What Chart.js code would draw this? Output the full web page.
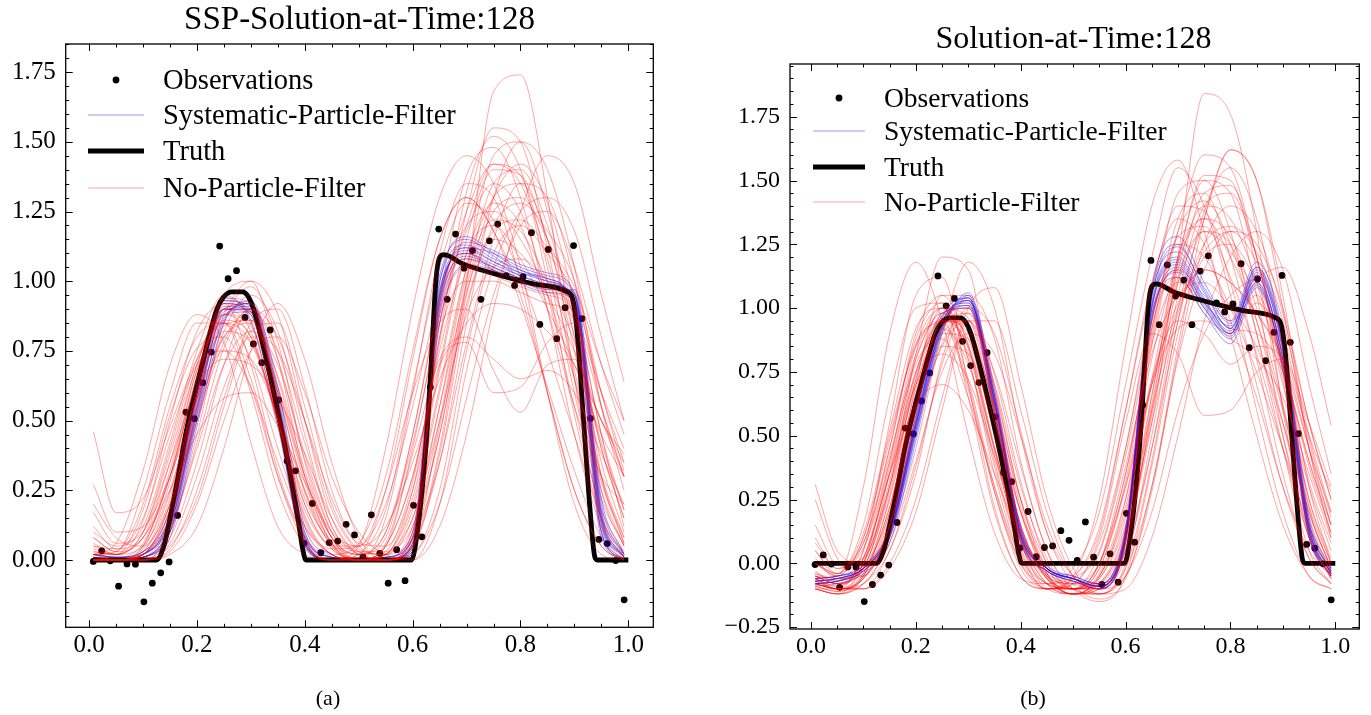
<!DOCTYPE html>
<html>
<head>
<meta charset="utf-8">
<script src="https://cdn.jsdelivr.net/npm/chart.js@4.4.1/dist/chart.umd.min.js"></script>
<style>
  body { margin: 0; background: #fff; }
  #contenedor { position: relative; width: 1371px; height: 715px; }
  canvas { position: absolute; top: 0; }
  #graficaA { left: 0; }
  #graficaB { left: 685px; }
</style>
</head>
<body>
<div id="contenedor">
  <canvas id="graficaA" width="685" height="715"></canvas>
  <canvas id="graficaB" width="686" height="715"></canvas>
</div>
<script>
// ===============================
// DATOS
// ===============================
const obsX = [0.0078,0.0234,0.0391,0.0547,0.0703,0.0859,0.1016,0.1172,0.1328,0.1484,0.1641,0.1797,0.1953,0.2109,0.2266,0.2422,
  0.2578,0.2734,0.2891,0.3047,0.3203,0.3359,0.3516,0.3672,0.3828,0.3984,0.4141,0.4297,0.4453,0.4609,0.4766,0.4922,
  0.5078,0.5234,0.5391,0.5547,0.5703,0.5859,0.6016,0.6172,0.6328,0.6484,0.6641,0.6797,0.6953,0.7109,0.7266,0.7422,
  0.7578,0.7734,0.7891,0.8047,0.8203,0.8359,0.8516,0.8672,0.8828,0.8984,0.9141,0.9297,0.9453,0.9609,0.9766,0.9922];
const obsY = [-0.005,0.033,-0.003,-0.094,-0.014,-0.015,-0.150,-0.083,-0.046,-0.007,0.160,0.530,0.507,0.636,0.746,1.126,
  1.009,1.038,0.870,0.775,0.708,0.825,0.574,0.355,0.320,0.060,0.203,0.026,0.062,0.068,0.128,0.090,
  0.011,0.162,0.024,-0.083,0.037,-0.074,0.196,0.083,0.620,1.187,0.935,1.169,1.047,1.110,0.935,1.145,
  1.205,1.020,0.985,1.016,1.174,0.845,1.114,0.794,0.905,1.128,0.866,0.508,0.074,0.059,-0.002,-0.143];

const verdadX = [0.007,0.125,0.14,0.15,0.165,0.18,0.2,0.212,0.225,0.237,0.25,0.265,0.285,0.295,0.305,0.323,0.348,0.373,0.388,0.396,0.402,
  0.598,0.61,0.62,0.63,0.637,0.643,0.65,0.658,0.668,0.69,0.75,0.795,0.825,0.886,0.896,0.904,0.917,0.929,0.938,0.943,1.0];
const verdadY = [0,0,0.06,0.15,0.3,0.46,0.63,0.72,0.82,0.9,0.945,0.962,0.962,0.945,0.9,0.765,0.55,0.31,0.14,0.04,0,
  0,0.12,0.3,0.55,0.8,1.0,1.085,1.095,1.09,1.065,1.028,1.004,0.99,0.962,0.94,0.84,0.5,0.18,0.01,0,0];

// malla comun de las particulas
const ensX = [0.008,0.05,0.1,0.15,0.2,0.25,0.3,0.35,0.4,0.45,0.5,0.55,0.6,0.65,0.7,0.75,0.8,0.85,0.9,0.95,0.992];

const rojasA = [
  [0.02,0.06,0.32,0.70,0.88,0.78,0.42,0.12,0.02,0.00,0.02,0.25,0.72,1.15,1.30,1.18,0.95,0.60,0.25,0.05,0.00],
  [0.46,0.17,0.22,0.48,0.72,0.85,0.72,0.40,0.12,0.02,0.00,0.05,0.30,0.75,1.10,1.28,1.20,0.90,0.55,0.30,0.20],
  [0.27,0.10,0.12,0.30,0.58,0.80,0.85,0.62,0.30,0.08,0.02,0.10,0.42,0.85,1.20,1.42,1.38,1.05,0.60,0.22,0.05],
  [0.20,0.08,0.05,0.20,0.50,0.78,0.90,0.75,0.42,0.12,0.03,0.02,0.18,0.60,1.05,1.45,1.50,1.25,0.80,0.35,0.10],
  [0.02,0.00,0.02,0.12,0.40,0.70,0.82,0.70,0.38,0.10,0.00,0.02,0.12,0.45,1.00,1.68,1.74,1.30,0.65,0.15,0.00],
  [0.00,0.00,0.00,0.05,0.22,0.55,0.82,0.85,0.55,0.20,0.04,0.02,0.08,0.35,0.78,1.15,1.35,1.30,1.00,0.55,0.30],
  [0.00,0.00,0.00,0.02,0.12,0.40,0.75,0.92,0.72,0.35,0.08,0.00,0.02,0.20,0.58,0.95,1.20,1.25,1.05,0.70,0.45],
  [0.05,0.02,0.08,0.25,0.45,0.58,0.60,0.48,0.28,0.10,0.05,0.12,0.35,0.65,0.85,0.92,0.90,0.82,0.70,0.50,0.30],
  [0.03,0.02,0.10,0.40,0.72,0.88,0.80,0.50,0.20,0.05,0.05,0.25,0.60,0.85,0.90,0.68,0.53,0.70,0.72,0.50,0.35],
  [0.00,0.00,0.05,0.30,0.65,0.90,0.88,0.60,0.25,0.05,0.00,0.05,0.30,0.70,0.78,0.60,0.62,0.78,0.85,0.60,0.40],
  [0.02,0.03,0.20,0.55,0.80,0.85,0.65,0.30,0.06,0.00,0.05,0.40,0.90,1.30,1.45,1.35,1.05,0.60,0.20,0.02,0.00],
  [0.00,0.00,0.02,0.15,0.50,0.82,0.95,0.82,0.45,0.12,0.02,0.00,0.10,0.50,1.00,1.35,1.40,1.20,0.85,0.40,0.15],
  [0.10,0.05,0.12,0.42,0.75,0.95,0.85,0.50,0.15,0.02,0.00,0.00,0.05,0.40,0.95,1.25,1.30,1.15,0.90,0.45,0.12],
  [0.03,0.02,0.05,0.25,0.60,0.88,1.00,0.88,0.50,0.15,0.02,0.00,0.02,0.25,0.75,1.10,1.20,1.10,0.95,0.60,0.35],
  [0.00,0.00,0.00,0.08,0.35,0.70,0.90,0.80,0.50,0.18,0.03,0.00,0.05,0.35,0.85,1.30,1.50,1.40,1.05,0.55,0.25],
  [0.05,0.04,0.15,0.45,0.70,0.75,0.62,0.35,0.12,0.04,0.05,0.20,0.55,0.95,1.20,1.25,1.15,0.95,0.65,0.30,0.08],
  [0.00,0.00,0.02,0.20,0.55,0.75,0.72,0.52,0.25,0.06,0.00,0.00,0.08,0.45,0.92,1.15,1.10,0.95,0.75,0.50,0.38],
  [0.12,0.04,0.08,0.30,0.65,0.90,0.92,0.65,0.30,0.08,0.02,0.08,0.45,0.95,1.38,1.48,1.30,0.90,0.45,0.12,0.02],
  [0.00,0.00,0.00,0.03,0.20,0.50,0.75,0.80,0.60,0.30,0.10,0.02,0.00,0.12,0.45,0.90,1.25,1.45,1.35,0.95,0.64],
  [0.02,0.00,0.00,0.10,0.45,0.85,0.98,0.78,0.35,0.08,0.00,0.00,0.00,0.20,0.68,1.05,1.25,1.30,1.18,0.80,0.50],
  [0.08,0.03,0.25,0.60,0.85,0.85,0.60,0.25,0.05,0.00,0.00,0.15,0.60,1.10,1.35,1.30,1.00,0.60,0.25,0.05,0.00],
  [0.00,0.00,0.05,0.32,0.68,0.85,0.78,0.50,0.18,0.04,0.00,0.02,0.20,0.62,1.05,1.30,1.35,1.15,0.75,0.30,0.06],
  [0.17,0.06,0.10,0.35,0.62,0.72,0.70,0.58,0.38,0.15,0.03,0.03,0.15,0.50,0.88,1.05,1.08,1.00,0.88,0.55,0.30],
  [0.00,0.00,0.00,0.06,0.30,0.62,0.80,0.75,0.50,0.22,0.06,0.05,0.25,0.70,1.15,1.40,1.38,1.15,0.80,0.40,0.15],
  [0.02,0.02,0.10,0.38,0.70,0.92,0.90,0.62,0.28,0.06,0.00,0.05,0.38,0.72,0.80,0.72,0.65,0.68,0.60,0.38,0.20],
  [0.00,0.00,0.03,0.22,0.62,0.95,1.00,0.72,0.30,0.06,0.00,0.02,0.25,0.78,1.25,1.55,1.50,1.12,0.65,0.25,0.05],
  [0.00,0.00,0.01,0.12,0.55,0.90,0.92,0.55,0.06,0.00,0.00,0.00,0.06,0.92,1.08,1.04,1.00,0.97,0.92,0.10,0.00],
  [0.00,0.00,0.02,0.16,0.60,0.92,0.88,0.50,0.05,0.00,0.00,0.00,0.04,0.85,1.05,1.02,0.98,0.95,0.88,0.15,0.01],
  [0.00,0.00,0.04,0.28,0.66,0.88,0.84,0.55,0.20,0.04,0.00,0.00,0.12,0.55,1.02,1.22,1.18,1.00,0.78,0.42,0.18],
  [0.06,0.02,0.14,0.50,0.82,0.92,0.70,0.32,0.08,0.00,0.02,0.18,0.62,1.05,1.28,1.22,1.02,0.75,0.45,0.15,0.02],
  [0.00,0.00,0.00,0.04,0.25,0.58,0.85,0.90,0.62,0.25,0.05,0.02,0.15,0.55,0.98,1.30,1.42,1.28,0.92,0.45,0.18],
  [0.02,0.01,0.06,0.30,0.68,0.86,0.80,0.50,0.16,0.02,0.00,0.03,0.28,0.80,1.32,1.52,1.40,1.00,0.52,0.15,0.02],
  [0.00,0.00,0.02,0.18,0.52,0.80,0.86,0.66,0.32,0.08,0.00,0.00,0.05,0.48,0.96,1.18,1.22,1.12,0.98,0.70,0.50],
  [0.04,0.02,0.18,0.52,0.76,0.80,0.62,0.30,0.08,0.02,0.06,0.30,0.75,1.15,1.30,1.18,0.92,0.62,0.32,0.08,0.00],
  [0.00,0.00,0.01,0.14,0.56,0.88,0.90,0.58,0.10,0.00,0.00,0.00,0.10,0.80,1.00,1.00,0.96,0.92,0.86,0.25,0.05],
  [0.00,0.00,0.00,0.10,0.42,0.76,0.90,0.72,0.36,0.10,0.02,0.00,0.04,0.38,0.90,1.20,1.28,1.18,1.00,0.60,0.32],
  [0.08,0.03,0.08,0.35,0.70,0.90,0.82,0.48,0.14,0.02,0.00,0.06,0.40,0.88,1.18,1.35,1.25,0.95,0.55,0.18,0.03],
  [0.00,0.00,0.02,0.20,0.58,0.84,0.86,0.60,0.24,0.05,0.00,0.02,0.22,0.68,1.10,1.20,1.08,0.90,0.70,0.45,0.30],
  [0.01,0.00,0.02,0.18,0.62,0.94,0.92,0.52,0.08,0.00,0.00,0.00,0.08,0.90,1.10,1.05,1.00,0.96,0.90,0.30,0.06],
  [0.00,0.00,0.03,0.24,0.60,0.82,0.78,0.52,0.22,0.06,0.02,0.10,0.45,0.92,1.25,1.42,1.35,1.08,0.68,0.28,0.08]
];

const azulesA = [
  [0.00,0.00,0.01,0.12,0.55,0.90,0.90,0.55,0.06,0.00,0.00,0.00,0.05,0.95,1.10,1.06,1.02,0.99,0.94,0.10,0.00],
  [0.01,0.00,0.02,0.15,0.60,0.92,0.88,0.50,0.04,0.00,0.00,0.00,0.08,1.00,1.13,1.08,1.04,1.00,0.92,0.14,0.01],
  [0.00,0.00,0.01,0.10,0.52,0.86,0.92,0.60,0.10,0.01,0.00,0.00,0.03,0.88,1.08,1.05,1.01,0.98,0.96,0.18,0.02],
  [0.02,0.01,0.03,0.18,0.62,0.94,0.86,0.48,0.05,0.00,0.00,0.01,0.10,1.02,1.15,1.09,1.03,1.01,0.90,0.08,0.00],
  [0.00,0.00,0.00,0.08,0.48,0.85,0.93,0.62,0.12,0.02,0.00,0.00,0.02,0.85,1.06,1.04,1.00,0.97,0.97,0.22,0.02],
  [0.01,0.00,0.02,0.14,0.58,0.90,0.90,0.56,0.08,0.01,0.00,0.00,0.06,0.93,1.12,1.10,1.05,1.02,0.95,0.16,0.01],
  [0.00,0.00,0.01,0.11,0.54,0.88,0.89,0.53,0.07,0.00,0.00,0.00,0.04,0.97,1.10,1.04,0.99,0.96,0.93,0.12,0.00],
  [0.02,0.01,0.03,0.16,0.60,0.93,0.91,0.54,0.06,0.00,0.00,0.01,0.07,0.92,1.14,1.11,1.06,1.03,0.96,0.20,0.02],
  [0.00,0.00,0.02,0.13,0.57,0.91,0.89,0.52,0.07,0.00,0.00,0.00,0.06,0.96,1.12,1.07,1.03,1.00,0.93,0.13,0.01],
  [0.01,0.00,0.01,0.10,0.50,0.87,0.92,0.58,0.09,0.01,0.00,0.00,0.03,0.90,1.09,1.05,1.01,0.98,0.95,0.17,0.01],
  [0.02,0.01,0.02,0.15,0.59,0.93,0.89,0.51,0.05,0.00,0.00,0.01,0.08,0.99,1.16,1.10,1.04,1.01,0.91,0.10,0.00],
  [0.00,0.00,0.01,0.12,0.53,0.89,0.91,0.57,0.08,0.00,0.00,0.00,0.05,0.94,1.11,1.07,1.02,0.99,0.95,0.15,0.01]
];

const rojasB = [
  [-0.08,-0.10,0.05,0.55,1.05,1.12,0.70,0.22,-0.05,-0.10,-0.06,0.05,0.45,1.00,1.45,1.50,1.30,0.90,0.45,0.05,-0.08],
  [0.00,-0.05,0.30,0.90,1.18,0.95,0.50,0.12,-0.06,-0.08,-0.02,0.20,0.70,1.20,1.55,1.40,1.05,0.60,0.20,-0.05,-0.10],
  [-0.05,-0.08,-0.02,0.30,0.82,1.20,1.15,0.60,0.15,-0.05,-0.10,-0.05,0.25,0.85,1.30,1.60,1.55,1.20,0.75,0.25,0.00],
  [-0.06,-0.10,-0.08,0.10,0.45,0.90,1.18,1.00,0.50,0.12,-0.05,-0.10,0.02,0.45,1.00,1.35,1.62,1.50,1.00,0.45,0.15],
  [0.02,-0.06,-0.05,0.15,0.60,0.95,0.92,0.60,0.20,-0.04,-0.12,-0.08,0.10,0.55,1.20,1.84,1.76,1.30,0.60,0.10,-0.05],
  [0.31,0.05,0.00,0.35,0.75,0.95,0.85,0.45,0.10,-0.08,-0.12,-0.05,0.20,0.70,1.10,1.30,1.25,0.95,0.55,0.15,-0.05],
  [0.25,0.02,-0.05,0.15,0.60,0.90,0.95,0.70,0.30,0.02,-0.10,-0.10,0.05,0.60,1.15,1.40,1.35,1.10,0.70,0.30,0.05],
  [-0.10,-0.12,0.00,0.35,0.62,0.70,0.60,0.35,0.10,-0.05,-0.08,0.00,0.30,0.70,0.92,0.95,0.88,0.80,0.65,0.35,0.10],
  [-0.05,-0.08,0.02,0.40,0.85,1.00,0.80,0.35,0.02,-0.10,-0.08,0.10,0.55,0.90,0.82,0.58,0.60,0.75,0.80,0.55,0.30],
  [-0.08,-0.10,-0.10,0.05,0.35,0.80,1.05,0.88,0.40,0.05,-0.10,-0.12,-0.02,0.30,0.85,1.35,1.62,1.50,1.05,0.45,0.10],
  [0.00,-0.04,0.15,0.65,1.00,1.02,0.65,0.20,-0.05,-0.10,-0.05,0.25,0.85,1.40,1.58,1.30,0.90,0.50,0.15,-0.05,-0.10],
  [-0.08,-0.10,-0.10,-0.02,0.20,0.60,0.95,0.95,0.60,0.20,-0.05,-0.12,-0.05,0.20,0.60,0.90,1.05,1.12,1.16,0.90,0.54],
  [-0.04,-0.06,0.05,0.45,0.90,1.05,0.85,0.40,0.05,-0.10,-0.10,0.00,0.35,0.90,1.35,1.45,1.20,0.80,0.35,0.02,-0.08],
  [-0.10,-0.10,-0.05,0.20,0.70,1.05,1.05,0.70,0.25,-0.02,-0.10,-0.08,0.10,0.65,1.20,1.35,1.20,0.95,0.60,0.20,-0.02],
  [-0.06,-0.10,-0.02,0.28,0.72,0.95,0.90,0.55,0.15,-0.06,-0.12,-0.06,0.15,0.60,1.00,1.15,1.10,0.98,0.80,0.45,0.20],
  [0.05,-0.05,0.10,0.50,0.85,0.95,0.70,0.28,0.00,-0.08,-0.05,0.12,0.60,1.10,1.35,1.25,0.95,0.65,0.30,0.05,-0.05],
  [-0.10,-0.12,-0.08,0.08,0.40,0.75,0.90,0.82,0.50,0.15,-0.05,-0.10,-0.05,0.30,0.80,1.15,1.30,1.25,1.00,0.55,0.25],
  [-0.08,-0.10,-0.10,0.00,0.25,0.65,1.00,1.08,0.70,0.25,-0.02,-0.12,-0.10,0.10,0.50,0.95,1.20,1.30,1.15,0.70,0.35],
  [0.10,-0.02,0.08,0.42,0.80,0.98,0.82,0.45,0.10,-0.06,-0.10,-0.02,0.30,0.80,1.20,1.50,1.45,1.05,0.50,0.10,-0.06],
  [-0.05,-0.08,0.00,0.32,0.75,0.92,0.78,0.42,0.08,-0.10,-0.12,-0.05,0.22,0.72,0.95,0.90,0.78,0.85,0.80,0.45,0.15],
  [-0.10,-0.12,-0.05,0.22,0.62,0.85,0.82,0.55,0.20,-0.02,-0.10,-0.10,0.05,0.45,0.95,1.38,1.55,1.35,0.85,0.30,0.00],
  [0.00,-0.04,0.12,0.52,0.92,1.00,0.72,0.30,0.00,-0.10,-0.08,0.08,0.45,0.95,1.25,1.20,1.00,0.75,0.45,0.15,-0.04],
  [-0.07,-0.10,-0.06,0.15,0.55,0.85,0.95,0.75,0.38,0.05,-0.10,-0.15,-0.05,0.38,0.90,1.20,1.25,1.10,0.85,0.50,0.28],
  [-0.03,-0.08,0.00,0.38,0.78,0.88,0.65,0.30,0.02,-0.08,-0.10,0.00,0.38,0.82,1.05,1.10,1.00,0.85,0.55,0.20,-0.02],
  [-0.09,-0.11,-0.04,0.25,0.68,0.98,1.00,0.68,0.25,-0.04,-0.12,-0.10,0.08,0.58,1.10,1.45,1.48,1.20,0.72,0.25,0.02],
  [0.15,0.00,0.02,0.30,0.70,0.90,0.88,0.62,0.25,0.00,-0.10,-0.08,0.12,0.55,0.98,1.22,1.30,1.18,0.90,0.48,0.18],
  [-0.05,-0.06,-0.02,0.14,0.58,0.97,1.02,0.60,0.10,-0.04,-0.08,-0.10,0.08,0.95,1.15,1.05,0.95,1.05,0.75,0.12,-0.05],
  [-0.06,-0.09,0.00,0.30,0.74,0.96,0.88,0.50,0.10,-0.08,-0.12,-0.06,0.18,0.72,1.18,1.35,1.28,1.00,0.62,0.22,0.00],
  [-0.08,-0.10,-0.06,0.18,0.62,0.92,0.98,0.66,0.22,-0.04,-0.12,-0.12,0.00,0.50,1.05,1.40,1.45,1.20,0.78,0.32,0.08],
  [0.05,-0.04,0.08,0.45,0.88,1.02,0.80,0.38,0.04,-0.10,-0.10,0.04,0.42,0.92,1.28,1.32,1.12,0.82,0.45,0.10,-0.06],
  [-0.10,-0.12,-0.08,0.05,0.38,0.78,1.00,0.90,0.52,0.12,-0.08,-0.14,-0.06,0.28,0.82,1.25,1.40,1.30,0.98,0.55,0.25],
  [-0.04,-0.07,0.02,0.36,0.80,0.98,0.84,0.44,0.06,-0.08,-0.10,-0.02,0.32,0.86,1.10,1.02,0.92,0.90,0.75,0.40,0.12],
  [-0.07,-0.10,-0.04,0.22,0.66,0.94,0.95,0.62,0.20,-0.05,-0.12,-0.10,0.06,0.62,1.12,1.30,1.22,1.05,0.78,0.38,0.12],
  [0.00,-0.05,0.10,0.48,0.86,0.94,0.68,0.28,-0.02,-0.10,-0.06,0.14,0.60,1.08,1.40,1.38,1.10,0.70,0.30,0.02,-0.08],
  [-0.09,-0.11,-0.06,0.12,0.52,0.86,0.98,0.74,0.32,0.00,-0.10,-0.12,-0.02,0.40,0.95,1.25,1.32,1.22,0.95,0.50,0.20],
  [-0.05,-0.08,-0.02,0.20,0.64,0.96,1.00,0.62,0.15,-0.05,-0.08,-0.08,0.10,0.92,1.12,0.98,0.90,1.02,0.82,0.22,-0.02],
  [-0.06,-0.09,0.02,0.35,0.70,0.82,0.72,0.42,0.12,-0.06,-0.10,-0.04,0.25,0.70,1.02,1.15,1.10,0.98,0.78,0.40,0.15],
  [-0.08,-0.10,-0.05,0.26,0.72,1.00,0.96,0.58,0.14,-0.06,-0.12,-0.08,0.14,0.66,1.18,1.52,1.50,1.15,0.62,0.18,-0.04],
  [0.08,-0.02,0.06,0.40,0.82,1.00,0.86,0.46,0.08,-0.08,-0.10,0.00,0.35,0.88,1.30,1.42,1.25,0.90,0.50,0.12,-0.06]
];

const azulesB = [
  [-0.07,-0.06,-0.02,0.12,0.55,0.95,1.02,0.62,0.10,-0.03,-0.06,-0.09,0.10,1.00,1.18,1.02,0.90,1.12,0.80,0.12,-0.04],
  [-0.08,-0.07,-0.03,0.10,0.52,0.92,1.05,0.65,0.12,-0.02,-0.06,-0.08,0.12,1.05,1.22,1.06,0.92,1.15,0.85,0.15,-0.03],
  [-0.06,-0.05,-0.01,0.14,0.58,0.98,1.00,0.58,0.08,-0.03,-0.07,-0.10,0.08,0.95,1.15,1.00,0.88,1.10,0.76,0.10,-0.05],
  [-0.09,-0.08,-0.04,0.08,0.48,0.90,1.06,0.68,0.14,-0.01,-0.05,-0.08,0.14,1.08,1.28,1.10,0.95,1.18,0.90,0.18,-0.02],
  [-0.07,-0.06,-0.02,0.11,0.54,0.94,1.03,0.63,0.11,-0.02,-0.06,-0.09,0.10,0.98,1.12,0.98,0.86,1.08,0.78,0.11,-0.05],
  [-0.08,-0.07,-0.02,0.13,0.56,0.96,1.04,0.60,0.09,-0.03,-0.07,-0.09,0.11,1.02,1.20,1.04,0.90,1.14,0.83,0.13,-0.04],
  [-0.06,-0.05,-0.02,0.12,0.53,0.93,1.01,0.64,0.11,-0.02,-0.06,-0.10,0.09,0.97,1.16,1.02,0.93,1.10,0.81,0.14,-0.04],
  [-0.08,-0.07,-0.03,0.10,0.50,0.91,1.03,0.66,0.13,-0.02,-0.05,-0.08,0.13,1.04,1.24,1.08,0.94,1.16,0.88,0.16,-0.03],
  [-0.07,-0.06,-0.02,0.12,0.55,0.94,1.04,0.63,0.11,-0.02,-0.06,-0.09,0.11,1.01,1.19,1.03,0.91,1.13,0.84,0.14,-0.04],
  [-0.08,-0.07,-0.03,0.11,0.51,0.92,1.04,0.66,0.13,-0.02,-0.06,-0.09,0.12,1.06,1.25,1.07,0.92,1.16,0.86,0.16,-0.03],
  [-0.06,-0.05,-0.01,0.13,0.57,0.97,1.01,0.59,0.09,-0.03,-0.07,-0.10,0.09,0.96,1.14,1.00,0.89,1.09,0.77,0.11,-0.05],
  [-0.07,-0.06,-0.02,0.12,0.54,0.93,1.03,0.64,0.12,-0.02,-0.06,-0.09,0.10,1.00,1.17,1.01,0.90,1.12,0.80,0.13,-0.04]
];

// marcas de los ejes
const marcasX = [0.0, 0.2, 0.4, 0.6, 0.8, 1.0];
const marcasYA = [0.00, 0.25, 0.50, 0.75, 1.00, 1.25, 1.50, 1.75];
const marcasYB = [-0.25, 0.00, 0.25, 0.50, 0.75, 1.00, 1.25, 1.50, 1.75];

const etiquetas = ["Observations", "Systematic-Particle-Filter", "Truth", "No-Particle-Filter"];

// ===============================
// ESTILO
// ===============================
const fuente = "'Liberation Serif', 'DejaVu Serif', serif";
const colorRojo = "rgba(255,0,0,0.35)";
const colorAzul = "rgba(0,0,255,0.4)";

Chart.defaults.font.family = fuente;
Chart.defaults.color = "#000";

const puntos = (xs, ys) => xs.map((x, i) => ({ x: x, y: ys[i] }));

function armarDatasets(rojas, azules) {
    const ds = [];
    ds.push({
        label: etiquetas[0], data: puntos(obsX, obsY), showLine: false,
        pointRadius: 3.4, pointBackgroundColor: "#000", pointBorderWidth: 0, order: 4
    });
    azules.forEach(f => ds.push({
        data: puntos(ensX, f), borderColor: colorAzul, borderWidth: 1,
        cubicInterpolationMode: "monotone", order: 3
    }));
    ds.push({
        label: etiquetas[2], data: puntos(verdadX, verdadY), borderColor: "#000",
        borderWidth: 4.8, borderJoinStyle: "round", cubicInterpolationMode: "monotone", order: 2
    });
    rojas.forEach(f => ds.push({
        data: puntos(ensX, f), borderColor: colorRojo, borderWidth: 1,
        cubicInterpolationMode: "monotone", order: 1
    }));
    return ds;
}

// ===============================
// MARCO, TICKS HACIA DENTRO, TITULO Y LEYENDA
// ===============================
function menores(scale, paso) {
    const vals = [];
    for (let k = Math.ceil(scale.min / paso - 1e-9); k * paso <= scale.max + 1e-9; k++) {
        vals.push(k * paso);
    }
    return vals;
}

const marco = {
    id: "marco",
    afterDatasetsDraw(chart) {
        const { ctx, chartArea: a, scales } = chart;
        const sx = scales.x, sy = scales.y;
        ctx.save();
        ctx.strokeStyle = "#000";
        ctx.lineWidth = 1;
        ctx.beginPath();
        const linea = (x1, y1, x2, y2) => { ctx.moveTo(x1, y1); ctx.lineTo(x2, y2); };
        menores(sx, 0.05).forEach(v => {
            const p = Math.round(sx.getPixelForValue(v)) + 0.5;
            const largo = marcasX.some(m => Math.abs(m - v) < 1e-6) ? 7 : 3.5;
            linea(p, a.bottom, p, a.bottom - largo);
            linea(p, a.top, p, a.top + largo);
        });
        menores(sy, 0.05).forEach(v => {
            const p = Math.round(sy.getPixelForValue(v)) + 0.5;
            const largo = Math.abs(v / 0.25 - Math.round(v / 0.25)) < 1e-6 ? 7 : 3.5;
            linea(a.left, p, a.left + largo, p);
            linea(a.right, p, a.right - largo, p);
        });
        ctx.stroke();
        ctx.lineWidth = 1.3;
        ctx.strokeRect(a.left, a.top, a.right - a.left, a.bottom - a.top);
        ctx.restore();
    },
    afterDraw(chart, args, o) {
        const ctx = chart.ctx;
        ctx.save();
        ctx.fillStyle = "#000";
        ctx.textAlign = "center";
        ctx.textBaseline = "alphabetic";
        ctx.font = o.tamTitulo + "px " + fuente;
        ctx.fillText(o.titulo, o.tituloX, o.tituloY);
        ctx.font = "22px " + fuente;
        ctx.textBaseline = "middle";
        ctx.fillText(o.pie, o.pieX, 699);

        // leyenda
        const L = o.leyenda;
        ctx.textAlign = "left";
        ctx.textBaseline = "alphabetic";
        ctx.font = L.tam + "px " + fuente;
        L.filas.forEach((y, i) => {
            if (i === 0) {
                ctx.beginPath();
                ctx.arc((L.x1 + L.x2) / 2, y, 3.4, 0, Math.PI * 2);
                ctx.fill();
            } else {
                ctx.beginPath();
                ctx.strokeStyle = [null, colorAzul, "#000", colorRojo][i];
                ctx.lineWidth = i === 2 ? 5 : 1.2;
                ctx.moveTo(L.x1, y);
                ctx.lineTo(L.x2, y);
                ctx.stroke();
            }
            ctx.fillText(etiquetas[i], L.xt, y + 9);
        });
        ctx.restore();
    }
};

// ===============================
// GRAFICAS
// ===============================
function crearGrafica(canvas, cfg) {
    return new Chart(canvas, {
        type: "line",
        data: { datasets: armarDatasets(cfg.rojas, cfg.azules) },
        options: {
            responsive: false,
            animation: false,
            events: [],
            layout: { padding: { left: 0, top: cfg.arriba, right: cfg.derecha, bottom: 0 } },
            elements: { point: { radius: 0, hoverRadius: 0 } },
            scales: {
                x: {
                    type: "linear", min: cfg.xmin, max: cfg.xmax,
                    afterFit: s => { s.height = cfg.altoX; },
                    afterBuildTicks: s => { s.ticks = marcasX.map(v => ({ value: v })); },
                    grid: { display: false, drawTicks: false },
                    border: { display: false },
                    ticks: {
                        padding: 3, maxRotation: 0, autoSkip: false,
                        font: { size: cfg.tamTick }, color: "#000",
                        callback: v => v.toFixed(1)
                    }
                },
                y: {
                    min: cfg.ymin, max: cfg.ymax,
                    afterFit: s => { s.width = cfg.anchoY; },
                    afterBuildTicks: s => { s.ticks = cfg.marcasY.map(v => ({ value: v })); },
                    grid: { display: false, drawTicks: false },
                    border: { display: false },
                    ticks: {
                        padding: 10, autoSkip: false,
                        font: { size: cfg.tamTick }, color: "#000",
                        callback: v => v.toFixed(2).replace("-", "\u2212")
                    }
                }
            },
            plugins: {
                legend: { display: false },
                tooltip: { enabled: false },
                marco: cfg.marco
            }
        },
        plugins: [marco]
    });
}

crearGrafica(document.getElementById("graficaA"), {
    rojas: rojasA, azules: azulesA,
    xmin: -0.0434, xmax: 1.0463, ymin: -0.2414, ymax: 1.851,
    marcasY: marcasYA, arriba: 44, derecha: 31.7, altoX: 87.7, anchoY: 65.7, tamTick: 25,
    marco: {
        titulo: "SSP-Solution-at-Time:128", tamTitulo: 33, tituloX: 359.5, tituloY: 29,
        pie: "(a)", pieX: 328,
        leyenda: { tam: 28.5, x1: 88, x2: 144, xt: 163, filas: [80, 115, 151, 188] }
    }
});

crearGrafica(document.getElementById("graficaB"), {
    rojas: rojasB, azules: azulesB,
    xmin: -0.040, xmax: 1.0458, ymin: -0.2574, ymax: 1.9565,
    marcasY: marcasYB, arriba: 64, derecha: 11.7, altoX: 86, anchoY: 105, tamTick: 24,
    marco: {
        titulo: "Solution-at-Time:128", tamTitulo: 32, tituloX: 388.5, tituloY: 48,
        pie: "(b)", pieX: 348,
        leyenda: { tam: 27.5, x1: 128, x2: 180, xt: 199, filas: [98, 131, 167, 202] }
    }
});
</script>
</body>
</html>
